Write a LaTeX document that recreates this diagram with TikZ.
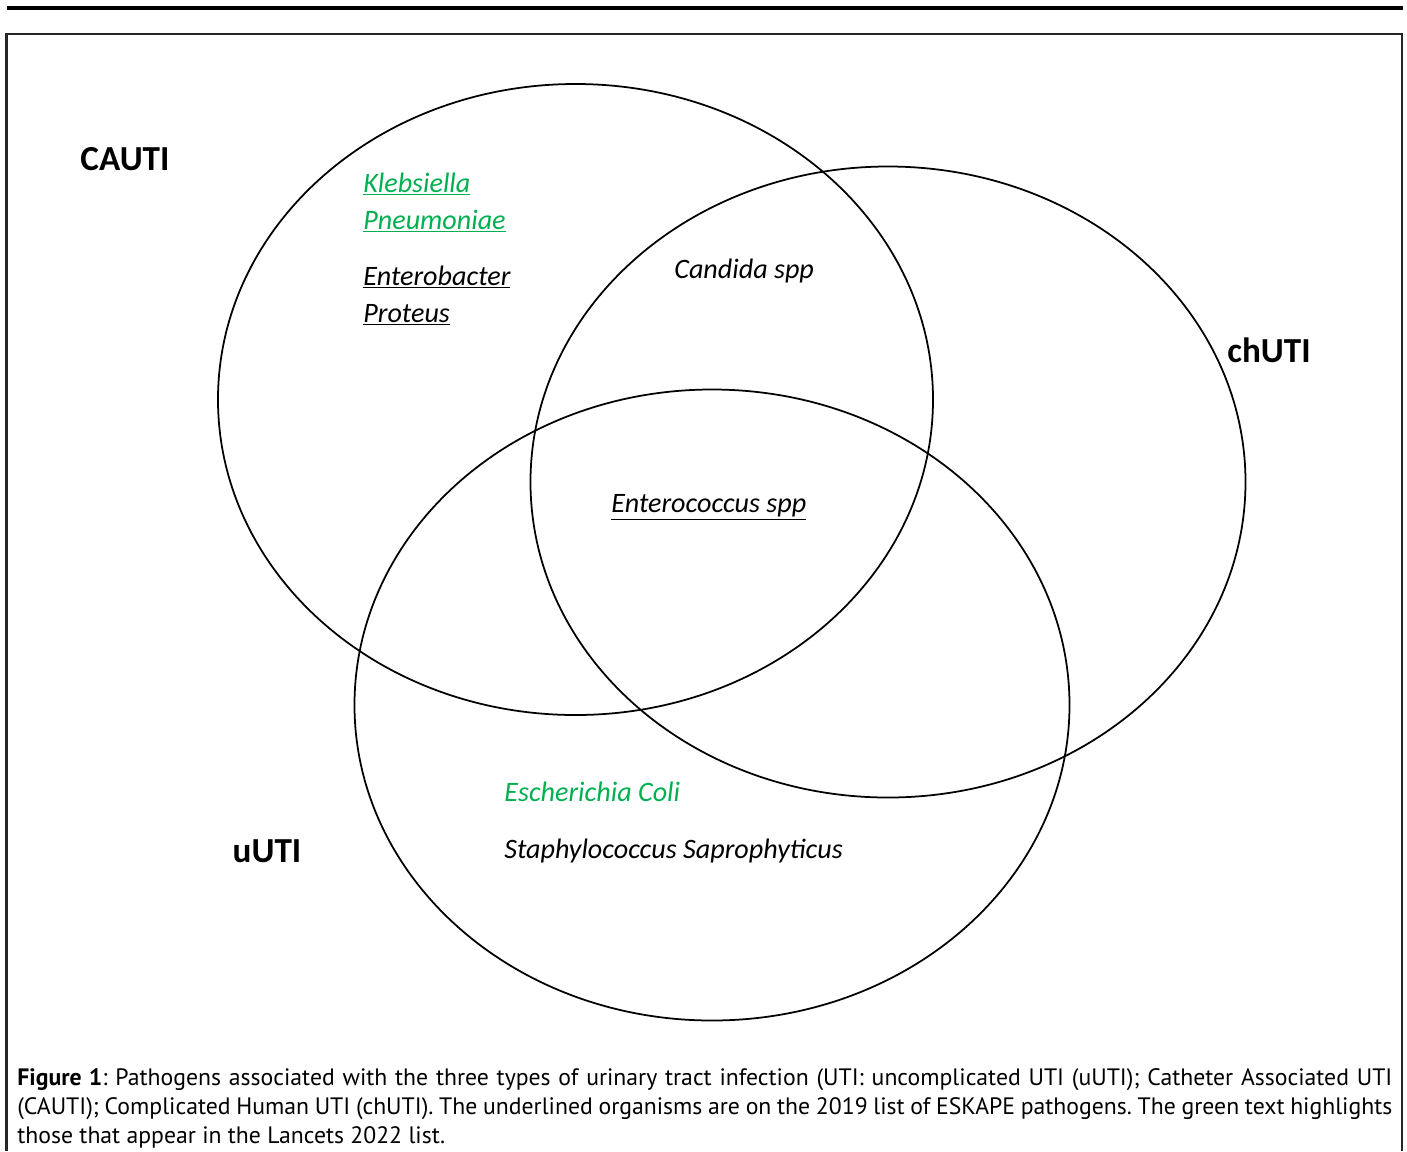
\documentclass[tikz,border=0pt]{standalone}
\usepackage{fontspec}
\setmainfont{Carlito}
\newfontfamily\captionfont{PT Sans}
\usetikzlibrary{shapes.geometric}
\definecolor{eskgreen}{RGB}{0,176,80}
\begin{document}
\begin{tikzpicture}[
  x=0.2mm, y=-0.2mm,
  set/.style={ellipse, draw, line width=1pt, minimum width=14.3cm, minimum height=12.62cm, inner sep=0pt},
  setname/.style={anchor=base, font=\fontsize{20}{24}\selectfont\bfseries},
  germ/.style={anchor=base west, inner sep=0pt, font=\fontsize{16}{19}\selectfont\itshape},
  frame/.style={line width=1.3pt, draw=black!85}
]
\useasboundingbox (0,0) rectangle (1407,1151);

% Rule and figure frame
\draw[line width=1.8pt] (7,8) -- (1403,8);
\draw[frame] (6.5,1151) -- (6.5,34) -- (1402,34) -- (1402,1151);

% The three sets
\node[set] (cauti) at (575.5,399.5) {};
\node[set] (chuti) at (888,482) {};
\node[set] (uuti) at (712,705) {};

% Set names
\node[setname] (lcauti) at (125,170) {CAUTI};
\node[setname] (lchuti) at (1269,362) {chUTI};
\node[setname] (luuti) at (267,862) {uUTI};

% Pathogens
\node[germ, text=eskgreen] (kleb) at (363,192) {\underline{Klebsiella}};
\node[germ, text=eskgreen] (pneu) at (363,229) {\underline{Pneumoniae}};
\node[germ] (entb) at (363,285) {\underline{Enterobacter}};
\node[germ] (prot) at (363,322) {\underline{Proteus}};
\node[germ] (cand) at (674,278) {Candida spp};
\node[germ] (entc) at (611,512) {\underline{Enterococcus spp}};
\node[germ, text=eskgreen] (ecoli) at (504,801) {Escherichia Coli};
\node[germ] (staph) at (504,858) {Staphylococcus Saprophyticus};

% Caption
\node[anchor=north west, inner sep=0pt, text width=1375*0.2mm, align=justify,
  font=\captionfont\fontsize{13.5}{16.5}\selectfont] (caption) at (17,1068)
  {\frenchspacing\textbf{Figure 1}: Pathogens associated with the three types of urinary tract infection (UTI: uncomplicated UTI (uUTI); Catheter Associated UTI\linebreak (CAUTI); Complicated Human UTI (chUTI). The underlined organisms are on the 2019 list of ESKAPE pathogens. The green text highlights\linebreak those that appear in the Lancets 2022 list.};

\end{tikzpicture}
\end{document}
